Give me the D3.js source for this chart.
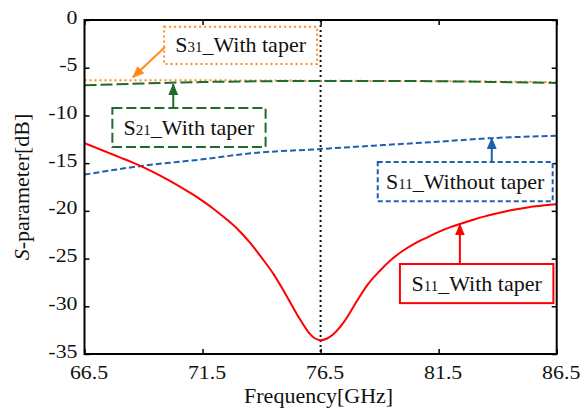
<!DOCTYPE html>
<html>
<head>
<meta charset="utf-8">
<script src="https://cdn.jsdelivr.net/npm/d3@7"></script>
<style>
  html, body { margin: 0; padding: 0; background: #fff; }
  svg text { font-family: "Liberation Serif", "Times New Roman", Times, "DejaVu Serif", serif !important; }
</style>
</head>
<body>
<svg id="chart" width="580" height="417"></svg>
<script>
// ---------------- data ----------------
const freqTicks = [66.5, 71.5, 76.5, 81.5, 86.5];
const freqTickLabels = ["66.5", "71.5", "76.5", "81.5", "86.5"];
const dbTicks = [0, -5, -10, -15, -20, -25, -30, -35];
const dbTickLabels = ["0", "-5", "-10", "-15", "-20", "-25", "-30", "-35"];

// S11 with taper (red)
const s11TaperFreq = [66.5, 67.0, 67.5, 68.0, 68.5, 69.0, 69.5, 70.0, 70.5, 71.0, 71.5, 72.0, 72.5, 73.0, 73.5, 74.0, 74.5, 75.0, 75.5, 76.0, 76.25, 76.5, 76.75, 77.0, 77.5, 78.0, 78.5, 79.0, 79.5, 80.0, 80.5, 81.0, 81.5, 82.0, 82.5, 83.0, 83.5, 84.0, 84.5, 85.0, 85.5, 86.0, 86.5];
const s11TaperDb   = [-12.9, -13.4, -13.9, -14.4, -14.9, -15.45, -16.05, -16.7, -17.4, -18.15, -18.95, -19.85, -20.85, -21.95, -23.3, -24.9, -26.6, -28.65, -30.85, -32.75, -33.35, -33.55, -33.4, -33.0, -31.6, -29.6, -27.7, -26.3, -25.1, -24.15, -23.4, -22.8, -22.2, -21.7, -21.3, -20.9, -20.55, -20.25, -19.97, -19.75, -19.55, -19.4, -19.3];

// S11 without taper (blue)
const s11NoTaperFreq = [66.5, 68.9, 71.5, 73.55, 76.5, 79.2, 81.5, 83.75, 86.5];
const s11NoTaperDb   = [-16.2, -15.3, -14.6, -13.97, -13.52, -13.1, -12.75, -12.38, -12.13];

// S21 with taper (green)
const s21Freq = [66.5, 69, 71.5, 74, 76.5, 79, 81.5, 84, 86.5];
const s21Db   = [-6.85, -6.65, -6.5, -6.42, -6.38, -6.38, -6.42, -6.5, -6.6];

// S31 with taper (orange)
const s31Freq = [66.5, 71.5, 76.5, 81.5, 86.5];
const s31Db   = [-6.3, -6.32, -6.36, -6.42, -6.5];

// centre frequency marker
const centerFreq = [76.5];

// ---------------- layout ----------------
const W = 580, H = 417;
const margin = { left: 84.5, right: 23.3, top: 20, bottom: 63 };
const svg = d3.select("#chart");
const x = d3.scaleLinear().domain([66.5, 86.5]).range([margin.left, W - margin.right]);
const y = d3.scaleLinear().domain([-35, 0]).range([H - margin.bottom, margin.top]);
const x0 = x.range()[0], x1 = x.range()[1], y0 = y.range()[0], y1 = y.range()[1];

const RED = "#ff0000", BLUE = "#1f5fb0", GREEN = "#1f6a2e", ORANGE = "#ff8c1a";
const SERIF = '"Liberation Serif", "Times New Roman", Times, "DejaVu Serif", serif';

// ---------------- axes (inward ticks on all sides) ----------------
const tickLen = 5;
const gB = svg.append("g").attr("transform", `translate(0,${y0})`)
  .call(d3.axisBottom(x).tickValues(freqTicks).tickSizeInner(-tickLen).tickSizeOuter(0)
    .tickFormat((d, i) => freqTickLabels[i]).tickPadding(0));
const gT = svg.append("g").attr("transform", `translate(0,${y1})`)
  .call(d3.axisTop(x).tickValues(freqTicks).tickSizeInner(-tickLen).tickSizeOuter(0).tickFormat(""));
const gL = svg.append("g").attr("transform", `translate(${x0},0)`)
  .call(d3.axisLeft(y).tickValues(dbTicks).tickSizeInner(-tickLen).tickSizeOuter(0)
    .tickFormat((d, i) => dbTickLabels[i]));
const gR = svg.append("g").attr("transform", `translate(${x1},0)`)
  .call(d3.axisRight(y).tickValues(dbTicks).tickSizeInner(-tickLen).tickSizeOuter(0).tickFormat(""));

[gB, gT, gL, gR].forEach(g => {
  g.attr("font-family", null);
  g.select(".domain").remove();
  g.selectAll(".tick line").attr("stroke", "#000").attr("stroke-width", 1.5);
});
gB.selectAll(".tick text")
  .style("font-family", SERIF)
  .attr("font-size", 19).attr("fill", "#111")
  .attr("y", 0).attr("dy", 0)
  .attr("transform", "translate(4,25) scale(1.15,1)");
gL.selectAll(".tick text")
  .style("font-family", SERIF)
  .attr("font-size", 19).attr("fill", "#111")
  .attr("x", 0).attr("dy", 0).attr("y", 0)
  .attr("transform", "translate(-7,3) scale(1.15,1)");

// ---------------- lines ----------------
const plot = svg.append("g");
plot.append("clipPath").attr("id", "clip").append("rect")
  .attr("x", x0).attr("y", y1).attr("width", x1 - x0).attr("height", y0 - y1);
const lines = plot.append("g").attr("clip-path", "url(#clip)");

// centre dotted line
lines.selectAll("line.center").data(centerFreq).join("line")
  .attr("class", "center")
  .attr("x1", d => x(d)).attr("x2", d => x(d))
  .attr("y1", y1).attr("y2", y0)
  .attr("stroke", "#111").attr("stroke-width", 2).attr("stroke-dasharray", "2,3");

function series(fs, vs) { return fs.map((f, i) => ({ f, v: vs[i] })); }
const lineGen = d3.line().x(d => x(d.f)).y(d => y(d.v)).curve(d3.curveMonotoneX);

lines.append("path").datum(series(s31Freq, s31Db)).attr("d", lineGen)
  .attr("fill", "none").attr("stroke", ORANGE).attr("stroke-width", 2).attr("stroke-dasharray", "2,3");
lines.append("path").datum(series(s21Freq, s21Db)).attr("d", lineGen)
  .attr("fill", "none").attr("stroke", GREEN).attr("stroke-width", 2).attr("stroke-dasharray", "12,4");
lines.append("path").datum(series(s11NoTaperFreq, s11NoTaperDb)).attr("d", lineGen)
  .attr("fill", "none").attr("stroke", BLUE).attr("stroke-width", 2).attr("stroke-dasharray", "6,3");
lines.append("path").datum(series(s11TaperFreq, s11TaperDb)).attr("d", lineGen)
  .attr("fill", "none").attr("stroke", RED).attr("stroke-width", 2);

// frame
svg.append("rect").attr("x", x0).attr("y", y1).attr("width", x1 - x0).attr("height", y0 - y1)
  .attr("fill", "none").attr("stroke", "#000").attr("stroke-width", 2);

// ---------------- annotations ----------------
const annotations = [
  { sub: "31", rest: "_With taper", color: ORANGE, dash: "2,3",
    box: [69.87, 76.35, -0.70, -4.62], from: [69.91, -2.84], to: [68.55, -6.0] },
  { sub: "21", rest: "_With taper", color: GREEN, dash: "10,4",
    box: [67.68, 74.17, -9.22, -13.32], from: [70.26, -9.22], to: [70.26, -6.72] },
  { sub: "11", rest: "_Without taper", color: BLUE, dash: "5,3",
    box: [78.92, 86.33, -14.89, -18.99], from: [83.75, -14.89], to: [83.75, -12.38] },
  { sub: "11", rest: "_With taper", color: RED, dash: null,
    box: [79.86, 86.36, -25.57, -29.67], from: [82.4, -25.57], to: [82.4, -21.42] }
];

const defs = svg.append("defs");
annotations.forEach((a, i) => {
  defs.append("marker").attr("id", "arr" + i)
    .attr("viewBox", "0 0 12 10").attr("refX", 11).attr("refY", 5)
    .attr("markerWidth", 12).attr("markerHeight", 10)
    .attr("markerUnits", "userSpaceOnUse").attr("orient", "auto")
    .append("path").attr("d", "M0,0 L12,5 L0,10 Z").attr("fill", a.color);
});

const ann = svg.append("g");
annotations.forEach((a, i) => {
  const bx0 = x(a.box[0]), bx1 = x(a.box[1]), by0 = y(a.box[2]), by1 = y(a.box[3]);
  ann.append("rect").attr("x", bx0).attr("y", by0).attr("width", bx1 - bx0).attr("height", by1 - by0)
    .attr("fill", "#fff").attr("stroke", a.color).attr("stroke-width", 2)
    .attr("stroke-dasharray", a.dash);
  const t = ann.append("text").attr("x", (bx0 + bx1) / 2).attr("y", by1 - 12)
    .attr("text-anchor", "middle").attr("font-size", 22).attr("fill", "#111")
    .style("font-family", SERIF);
  t.append("tspan").text("S");
  t.append("tspan").attr("font-size", 15).text(a.sub);
  t.append("tspan").text(a.rest);
  ann.append("line")
    .attr("x1", x(a.from[0])).attr("y1", y(a.from[1]))
    .attr("x2", x(a.to[0])).attr("y2", y(a.to[1]))
    .attr("stroke", a.color).attr("stroke-width", 2)
    .attr("marker-end", `url(#arr${i})`);
});

// ---------------- axis titles ----------------
svg.append("text").attr("x", (x0 + x1) / 2 - 2).attr("y", 403)
  .attr("text-anchor", "middle").attr("font-size", 22).attr("fill", "#111")
  .style("font-family", SERIF)
  .text("Frequency[GHz]");
const yt = svg.append("text")
  .attr("transform", `translate(29,${(y0 + y1) / 2}) rotate(-90)`)
  .attr("text-anchor", "middle").attr("font-size", 22).attr("fill", "#111")
  .style("font-family", SERIF);
yt.append("tspan").attr("font-style", "italic").text("S");
yt.append("tspan").text("-parameter[dB]");
</script>
</body>
</html>
